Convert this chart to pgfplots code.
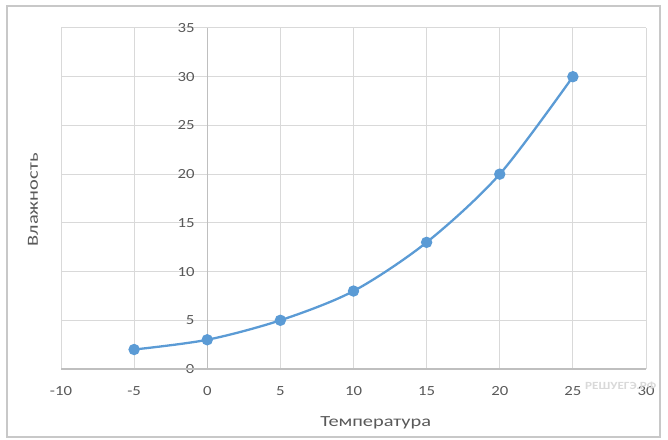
\documentclass[border=0pt]{standalone}
\usepackage{pgfplots}
\pgfplotsset{compat=1.18}
\usepackage{fontspec}
\setmainfont{Carlito}
\usepackage{graphicx}

\definecolor{excelblue}{HTML}{5B9BD5}
\definecolor{gridgray}{HTML}{D9D9D9}
\definecolor{axisgray}{HTML}{BFBFBF}
\definecolor{txtgray}{HTML}{595959}
\definecolor{framegray}{HTML}{C8C8C8}

\newcommand{\wide}[1]{\scalebox{1.2}[1]{#1}}
\newcommand{\wider}[1]{\scalebox{1.32}[1]{#1}}

\begin{document}
\begin{tikzpicture}
\useasboundingbox (-61bp,-71bp) rectangle (607bp,369bp);
\draw[framegray, line width=1.2bp] (-54bp,-68bp) rectangle (599bp,363bp);
\begin{axis}[
    scale only axis,
    width=585bp, height=341bp,
    xmin=-10, xmax=30, ymin=0, ymax=35,
    xtick={-10,-5,...,30},
    ytick={0,5,...,35},
    grid=major,
    major grid style={gridgray, line width=1bp},
    axis line style={draw=none},
    tick style={draw=none},
    font=\fontsize{14}{16}\selectfont,
    /pgf/number format/assume math mode=true,
    xticklabel={\wide{\pgfmathprintnumber{\tick}}},
    yticklabel={\wide{\pgfmathprintnumber{\tick}}},
    xticklabel style={txtgray, yshift=-14bp},
    yticklabel style={txtgray, anchor=east, xshift=137bp},
    xlabel={\wider{Температура}},
    ylabel={\wider{Влажность}},
    label style={font=\fontsize{15.5}{17}\selectfont},
    xlabel style={txtgray, at={(axis description cs:0.538,0)}, anchor=center, yshift=-54bp},
    ylabel style={txtgray, at={(axis description cs:0,0.496)}, anchor=center, yshift=28bp},
    clip=false,
]
\addplot[axisgray, line width=1.2bp, forget plot] coordinates {(0,0) (0,35)};
\addplot[axisgray, line width=1.2bp, forget plot] coordinates {(-10,0) (30,0)};
\addplot[
    excelblue, line width=2.3bp,
    smooth, tension=0.5,
    mark=*, mark size=4.5bp,
    mark options={fill=excelblue, draw=excelblue},
] coordinates {
    (-5,2) (0,3) (5,5) (10,8) (15,13) (20,20) (25,30)
};
\node[anchor=west, font=\fontsize{11}{12}\bfseries\selectfont, text=gray!30]
    at (axis cs:25.6,-1.7) {\wide{РЕШУЕГЭ.РФ}};
\end{axis}
\end{tikzpicture}
\end{document}
